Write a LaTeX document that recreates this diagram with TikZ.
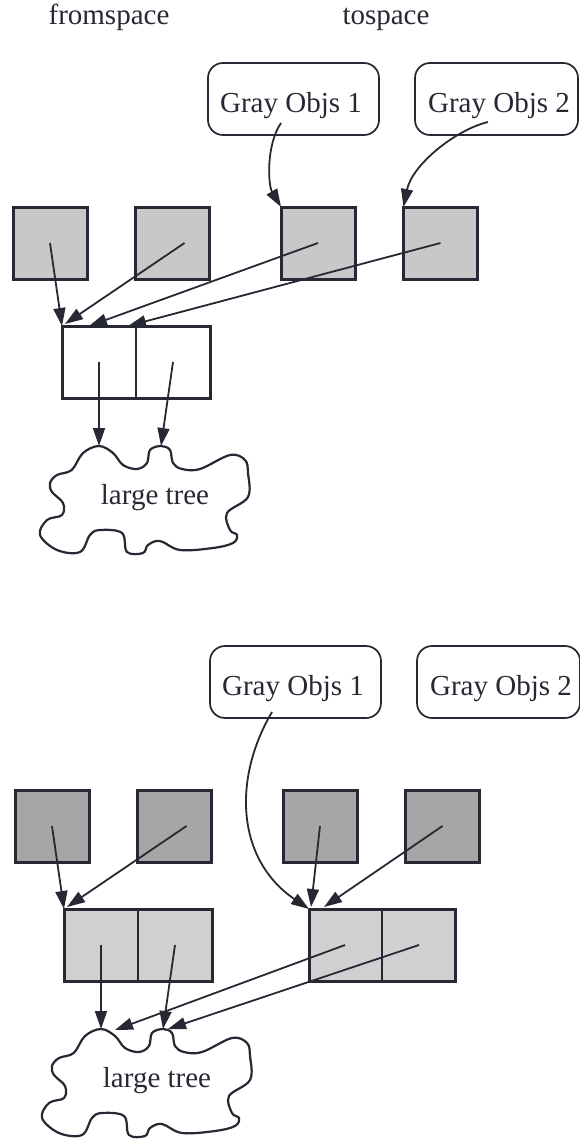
\documentclass[tikz,border=0pt]{standalone}
\usepackage{fontspec}
\setmainfont{Liberation Serif}
\usetikzlibrary{arrows.meta,calc}
\definecolor{ink}{HTML}{262833}
\definecolor{lightfill}{HTML}{C8C8C8}
\definecolor{darkfill}{HTML}{A6A6A6}
\definecolor{cellfill}{HTML}{D0D0D0}
\tikzset{
  objbox/.style={draw=ink, line width=3pt, minimum width=74pt, minimum height=72pt, inner sep=0pt, outer sep=0pt},
  cellbox/.style={draw=ink, line width=3pt, minimum width=148pt, minimum height=72pt, inner sep=0pt, outer sep=0pt},
  grayobj/.style={draw=ink, line width=1.7pt, rounded corners=15pt, minimum height=72pt, inner sep=0pt, outer sep=0pt},
  lbl/.style={font=\fontsize{29}{34}\selectfont, text=ink, anchor=base, inner sep=0pt},
  ptr/.style={draw=ink, line width=1.8pt, -{Triangle[length=18pt,width=12pt]}},
  treeline/.style={draw=ink, line width=2.2pt},
  divider/.style={draw=ink, line width=2pt}
}
\newcommand{\treeoutline}{plot[smooth cycle, tension=0.6] coordinates {
 (71.7,470) (83,453) (99,446) (113,453) (123,465) (137,469) (147,463) (150,450)
 (161,446) (170,450) (173,463) (182,469) (200,469) (230,455) (245,460) (248,473)
 (248,497) (227,513) (230,530) (237,535) (233,543) (213,548) (180,550) (160,541)
 (148,545) (143,553) (127,552) (122,533) (100,530) (90,535) (80,552) (57,550)
 (40,535) (47,520) (62,515) (63,503) (52,492) (50,483) (57,475)}}
\begin{document}
\begin{tikzpicture}[x=1pt,y=-1pt]
\useasboundingbox (0,0) rectangle (580,1140);
\node[lbl] (from) at (109,25) {fromspace};
\node[lbl] (to) at (386,25) {tospace};
% ---------- top state ----------
\begin{scope}
\node[grayobj, minimum width=171pt] (go1) at (293.5,99) {};
\node[lbl] (go1t) at (291,112) {Gray Objs 1};
\node[grayobj, minimum width=163pt] (go2) at (496.5,99) {};
\node[lbl] (go2t) at (499,112) {Gray Objs 2};
\node[objbox, fill=lightfill] (a1) at (50,243) {};
\node[objbox, fill=lightfill] (a2) at (172.5,243) {};
\node[objbox, fill=lightfill] (a3) at (318,243) {};
\node[objbox, fill=lightfill] (a4) at (440.5,243) {};
\node[cellbox, fill=white] (c) at (136,362) {};
\draw[divider] (c.north) -- (c.south);
\draw[treeline] \treeoutline;
\node[lbl] (tree) at (155,504) {large tree};
\coordinate (p1) at (99,446);
\coordinate (p2) at (161,446);
\draw[ptr] ($(go1.center)+(-12.5,24)$) .. controls ($(go1.center)+(-27.5,46)$) and ($(a3.north west)+(-13,-22)$) .. (a3.north west);
\draw[ptr] ($(go2.center)+(-8.5,23)$) .. controls ($(go2.center)+(-41.5,31)$) and ($(a4.north west)+(8.5,-42)$) .. (a4.north west);
\draw[ptr] (a1.center) -- (c.north west);
\draw[ptr] ([xshift=12pt]a2.center) -- ([shift={(3,-2)}]c.north west);
\draw[ptr] (a3.center) -- ([xshift=27pt]c.north west);
\draw[ptr] (a4.center) -- ([xshift=66pt]c.north west);
\draw[ptr] ([xshift=-37pt]c.center) -- (p1);
\draw[ptr] ([xshift=37pt]c.center) -- (p2);
\end{scope}
% ---------- bottom state ----------
\begin{scope}[shift={(2,583)}]
\node[grayobj, minimum width=171pt] (bgo1) at (293.5,99) {};
\node[lbl] (bgo1t) at (291,112) {Gray Objs 1};
\node[grayobj, minimum width=163pt] (bgo2) at (496.5,99) {};
\node[lbl] (bgo2t) at (499,112) {Gray Objs 2};
\node[objbox, fill=darkfill] (b1) at (50,243) {};
\node[objbox, fill=darkfill] (b2) at (172.5,243) {};
\node[objbox, fill=darkfill] (b3) at (318,243) {};
\node[objbox, fill=darkfill] (b4) at (440.5,243) {};
\node[cellbox, fill=cellfill] (bc1) at (136,362) {};
\draw[divider] (bc1.north) -- (bc1.south);
\node[cellbox, fill=cellfill, minimum width=146pt] (bc2) at (380,362) {};
\draw[divider] (bc2.north) -- (bc2.south);
\draw[treeline] \treeoutline;
\node[lbl] (btree) at (155,504) {large tree};
\coordinate (bp1) at (99,446);
\coordinate (bp2) at (161,446);
\coordinate (bq1) at (113,447);
\coordinate (bq2) at (166,446);
\draw[ptr] ($(bgo1.center)+(-23.5,30)$) .. controls ($(bgo1.center)+(-63.5,98)$) and ($(bc2.north west)+(-72,-49)$) .. (bc2.north west);
\draw[ptr] (b1.center) -- (bc1.north west);
\draw[ptr] ([xshift=12pt]b2.center) -- ([shift={(3,-2)}]bc1.north west);
\draw[ptr] (b3.center) -- ([shift={(2,-2)}]bc2.north west);
\draw[ptr] (b4.center) -- ([shift={(15,-2)}]bc2.north west);
\draw[ptr] ([xshift=-37pt]bc1.center) -- (bp1);
\draw[ptr] ([xshift=37pt]bc1.center) -- (bp2);
\draw[ptr] ([xshift=-37pt]bc2.center) -- (bq1);
\draw[ptr] ([xshift=37pt]bc2.center) -- (bq2);
\end{scope}
\end{tikzpicture}
\end{document}
